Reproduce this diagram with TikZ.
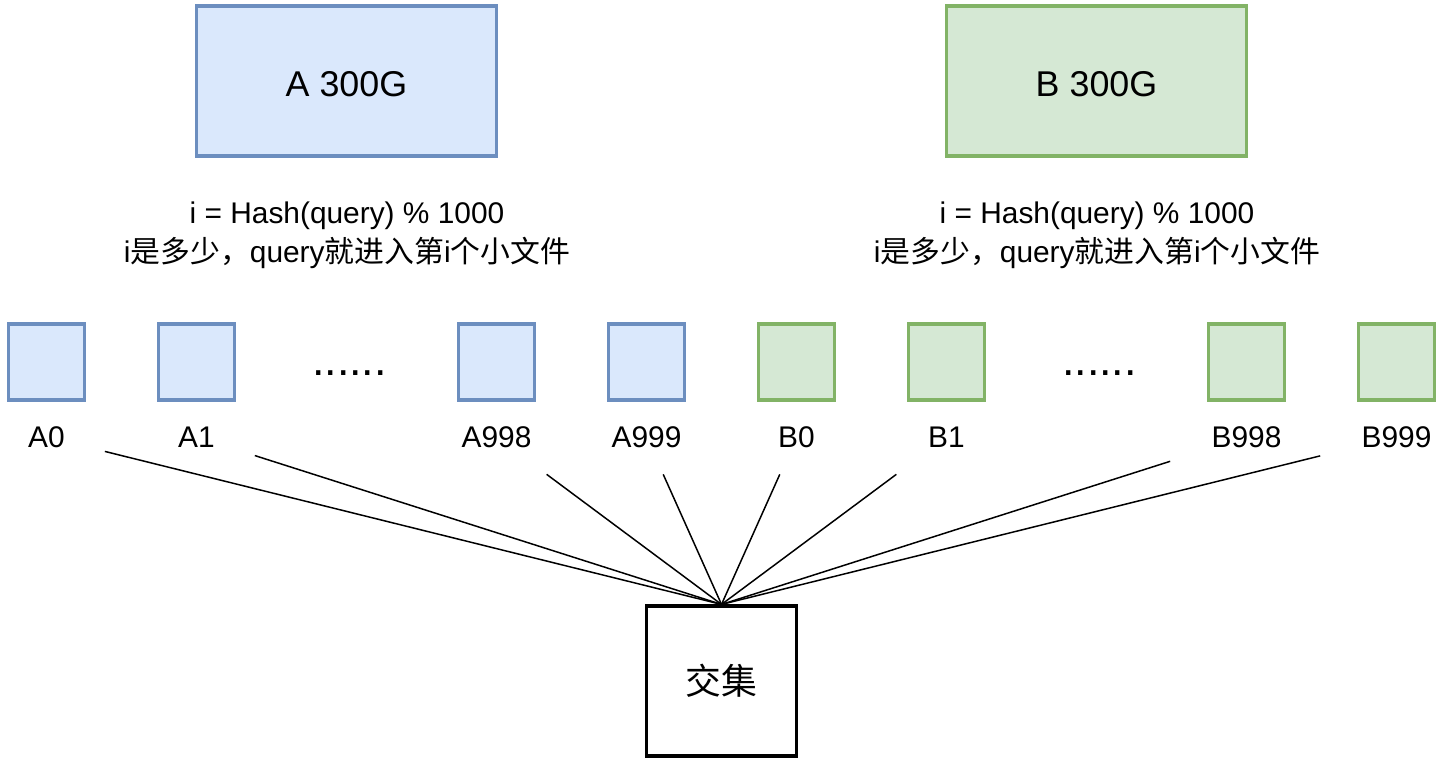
\documentclass[tikz,border=0pt]{standalone}
\usepackage{fontspec}
\setmainfont{Liberation Sans}
\newfontfamily\cjk{Noto Sans CJK SC}
\definecolor{fileblue}{HTML}{DAE8FC}
\definecolor{edgeblue}{HTML}{6C8EBF}
\definecolor{filegreen}{HTML}{D5E8D4}
\definecolor{edgegreen}{HTML}{82B366}

\begin{document}
\begin{tikzpicture}[x=0.02cm, y=-0.02cm,
        bigfile/.style={draw, line width=1.8pt, minimum width=6cm, minimum height=3cm, text height=18pt, text depth=0pt, font=\fontsize{20.4}{24}\selectfont},
        smallfile/.style={draw, line width=1.8pt, minimum width=1.52cm, minimum height=1.52cm},
        partA/.style={fill=fileblue, draw=edgeblue},
        partB/.style={fill=filegreen, draw=edgegreen},
        filetag/.style={minimum width=2.32cm, minimum height=1.48cm, inner sep=0pt, font=\fontsize{17}{20}\selectfont},
        widetag/.style={filetag, minimum width=3.04cm},
        hashnote/.style={align=center, font=\fontsize{17}{22.1}\selectfont},
        dotsnote/.style={anchor=base, font=\fontsize{25.5}{30}\selectfont},
        joinline/.style={line width=0.85pt}]
            \useasboundingbox (0, 0) rectangle (1443, 766);

            % the two big files
            \node[bigfile, partA] (bigA) at (346.5, 81) {A 300G};
            \node[bigfile, partB] (bigB) at (1096.5, 81) {B 300G};

            \node[hashnote] (hashA) at (347, 235) {i = Hash(query) \% 1000\\i{\cjk 是多少，}query{\cjk 就进入第}i{\cjk 个小文件}};
            \node[hashnote] (hashB) at (1097, 235) {i = Hash(query) \% 1000\\i{\cjk 是多少，}query{\cjk 就进入第}i{\cjk 个小文件}};

            % small files
            \node[smallfile, partA] (a0) at (46.5, 362) {};
            \node[smallfile, partA] (a1) at (196.5, 362) {};
            \node[smallfile, partA] (a998) at (496.5, 362) {};
            \node[smallfile, partA] (a999) at (646.5, 362) {};
            \node[smallfile, partB] (b0) at (796.5, 362) {};
            \node[smallfile, partB] (b1) at (946.5, 362) {};
            \node[smallfile, partB] (b998) at (1246.5, 362) {};
            \node[smallfile, partB] (b999) at (1396.5, 362) {};

            \node[dotsnote] (dotsA) at (349.5, 376) {......};
            \node[dotsnote] (dotsB) at (1099.5, 376) {......};

            \node[filetag] (ta0) at (46.5, 437) {A0};
            \node[filetag] (ta1) at (196.5, 437) {A1};
            \node[filetag] (ta998) at (496.5, 437) {A998};
            \node[filetag] (ta999) at (646.5, 437) {A999};
            \node[filetag] (tb0) at (796.5, 437) {B0};
            \node[filetag] (tb1) at (946.5, 437) {B1};
            \node[widetag] (tb998) at (1246.5, 437) {B998};
            \node[widetag] (tb999) at (1396.5, 437) {B999};

            % intersection
            \node[draw, line width=1.8pt, minimum width=3cm, minimum height=3cm, font=\fontsize{20.4}{24}\cjk] (meet) at (721.5, 681) {交集};

            \draw[joinline] (ta0) -- (meet.north);
            \draw[joinline] (ta1) -- (meet.north);
            \draw[joinline] (ta998) -- (meet.north);
            \draw[joinline] (ta999) -- (meet.north);
            \draw[joinline] (tb0) -- (meet.north);
            \draw[joinline] (tb1) -- (meet.north);
            \draw[joinline] (tb998) -- (meet.north);
            \draw[joinline] (tb999) -- (meet.north);
        \end{tikzpicture}
\end{document}
